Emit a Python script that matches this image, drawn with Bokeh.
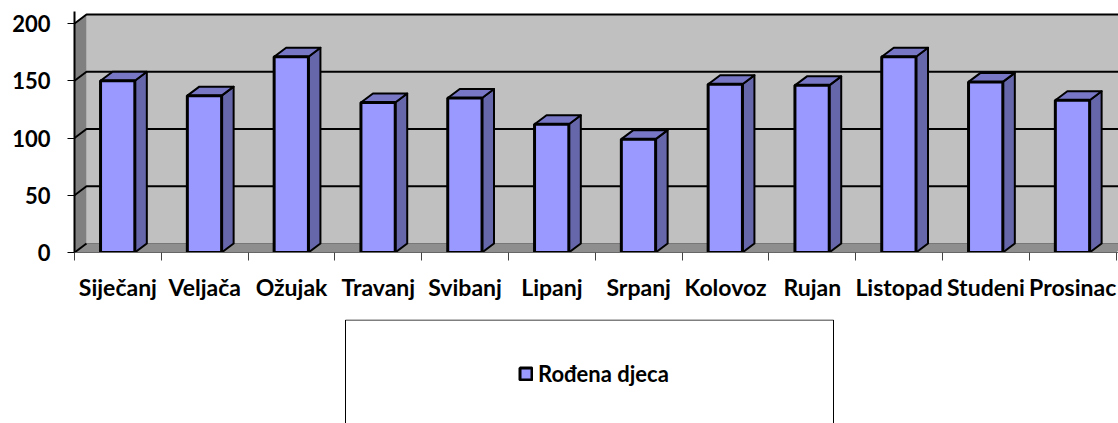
from bokeh.embed import file_html
from bokeh.resources import INLINE
from bokeh.plotting import figure
from bokeh.layouts import column
from bokeh.models import (ColumnDataSource, Range1d, FixedTicker, Legend, LegendItem)

months = ["Siječanj", "Veljača", "Ožujak", "Travanj", "Svibanj", "Lipanj", "Srpanj",
          "Kolovoz", "Rujan", "Listopad", "Studeni", "Prosinac"]
births = [150, 137, 171, 131, 135, 112, 99, 147, 146, 171, 149, 133]
y_ticks = [0, 50, 100, 150, 200]
series_name = "Rođena djeca"

# layout (image pixels)
X0, Y0 = 74, 252          # front-left origin of the plot
CAT_PX, UNIT_PX = 86.8, 1.145
W, H = 1118, 319
H2 = 104
TOP = 11
FONT = "Lato"
DX, DY = 12 / CAT_PX, 9 / UNIT_PX   # 3D depth in data units
BAR_L, BAR_R = 0.30, 0.695
n = len(months)
xmax = (W - X0) / CAT_PX
ymax = (Y0 - TOP) / UNIT_PX

p = figure(width=W, height=H, output_backend="svg", toolbar_location=None,
           x_range=Range1d(0, xmax), y_range=Range1d(0, ymax),
           min_border_left=X0, min_border_right=0, min_border_top=TOP,
           min_border_bottom=H - Y0, outline_line_color=None, background_fill_color="white")
p.grid.visible = False

# walls and floor
top = max(y_ticks)
p.patch([DX, n + DX + 1, n + DX + 1, DX], [DY, DY, top + DY, top + DY], fill_color="#C0C0C0", line_color=None)
p.patch([0, DX, DX, 0], [0, DY, top + DY, top], fill_color="#808080", line_color=None)
p.patch([0, n, n + DX, DX], [0, 0, DY, DY], fill_color="#8E8E8E", line_color=None)
p.line([DX, n + DX], [DY, DY], line_color="#777777", line_width=1)

# gridlines on side and back walls
gx = [[0, DX, n + DX + 1] for _ in y_ticks if _ > 0]
gy = [[t, t + DY, t + DY] for t in y_ticks if t > 0]
p.multi_line(gx, gy, line_color="black", line_width=2)
p.line([0, DX], [0, DY], line_color="black", line_width=2)

# bars
lefts = [i + BAR_L for i in range(n)]
rights = [i + BAR_R for i in range(n)]
for i, v in enumerate(births):
    l, r = lefts[i], rights[i]
    p.patch([r, r + DX, r + DX, r], [0, DY, v + DY, v], fill_color="#6666AA",
            line_color="black", line_width=2, line_join="round")
    p.patch([l, r, r + DX, l + DX], [v, v, v + DY, v + DY], fill_color="#7777C6",
            line_color="black", line_width=2, line_join="round")
    front_src = ColumnDataSource(dict(x=[(l + r) / 2], y=[v / 2], w=[r - l], h=[v]))
    p.rect("x", "y", "w", "h", source=front_src, fill_color="#9999FF",
           line_color="black", line_width=3)

# axes
yax = p.yaxis[0]
yax.ticker = FixedTicker(ticks=y_ticks)
yax.major_tick_in = 0
yax.major_tick_out = 7
yax.minor_tick_line_color = None
yax.major_tick_line_color = "black"
yax.axis_line_color = "black"
yax.axis_line_width = 2
yax.major_label_standoff = 17
yax.major_label_text_font = FONT
yax.major_label_text_font_style = "bold"
yax.major_label_text_font_size = "22px"
yax.major_label_text_color = "black"

xax = p.xaxis[0]
centres = [i + 0.5 for i in range(n)]
xax.ticker = FixedTicker(ticks=centres, minor_ticks=list(range(n + 1)))
xax.major_label_overrides = {c: m for c, m in zip(centres, months)}
xax.major_tick_line_color = None
xax.major_tick_in = 0
xax.major_tick_out = 0
xax.minor_tick_in = 0
xax.minor_tick_out = 8
xax.minor_tick_line_color = "#444444"
xax.axis_line_color = "#666666"
xax.major_label_standoff = 12
xax.major_label_text_font = FONT
xax.major_label_text_font_style = "bold"
xax.major_label_text_font_size = "23px"
xax.major_label_text_color = "black"

# legend panel: the frame's open lower edge runs off the page (frames align with the chart above)
q = figure(width=W, height=H2, output_backend="svg", toolbar_location=None,
           x_range=Range1d(X0, W), y_range=Range1d(H2, 0),
           min_border=0, outline_line_color=None, background_fill_color="white")
q.axis.visible = False
q.grid.visible = False
q.line([345, 345, 833, 833], [H2 + 5, 0.5, 0.5, H2 + 5], line_color="black", line_width=1)
swatch = q.rect([float("nan")], [float("nan")], 1, 1, fill_color="#9999FF", line_color="black", line_width=3)
legend = Legend(items=[LegendItem(label=series_name, renderers=[swatch])],
                location=(518 - X0, H2 - 68), padding=0, margin=0, spacing=0,
                glyph_width=15, glyph_height=15, label_standoff=5,
                border_line_color=None, background_fill_alpha=0,
                label_text_font=FONT, label_text_font_style="bold",
                label_text_font_size="22px", label_text_color="black")
q.add_layout(legend)

open("out.html", "w").write(file_html(column(p, q, spacing=0), INLINE))
